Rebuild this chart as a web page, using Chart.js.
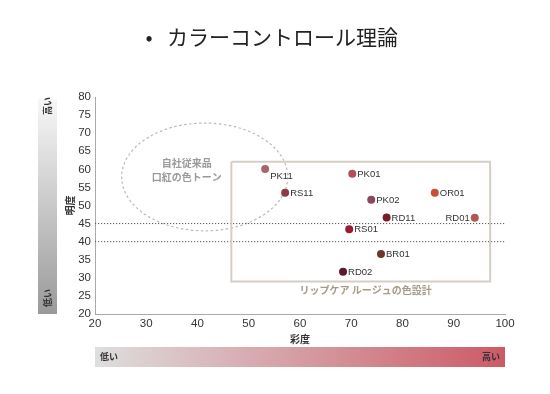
<!DOCTYPE html>
<html lang="ja">
<head>
<meta charset="utf-8">
<script src="https://cdn.jsdelivr.net/npm/chart.js@4/dist/chart.umd.min.js"></script>
<style>
  html, body { margin: 0; padding: 0; background: #fff; }
</style>
</head>
<body>
<canvas id="c" width="550" height="394"></canvas>
<script>
// ===== データ =====
const chartTitle = 'カラーコントロール理論';
const codes      = ['PK11', 'PK01', 'RS11', 'PK02', 'OR01', 'RD11', 'RD01', 'RS01', 'BR01', 'RD02'];
const saturation = [53.2, 70.2, 57.1, 73.9, 86.3, 76.9, 94.1, 69.6, 75.8, 68.4];
const lightness  = [60.1, 58.8, 53.5, 51.6, 53.5, 46.7, 46.6, 43.4, 36.6, 31.7];
const dotColors  = ['#a8666a', '#b44d57', '#8f3a48', '#8e4662', '#cc4e3a', '#7a1a2a', '#b05a52', '#9b1c30', '#6b3530', '#5c1a30'];
const xTickValues = [20, 30, 40, 50, 60, 70, 80, 90, 100];
const yTickValues = [20, 25, 30, 35, 40, 45, 50, 55, 60, 65, 70, 75, 80];
const refLevels  = [45, 40];
// 枠・楕円（データ単位）
const boxX = [46.6, 97.1];
const boxY = [29, 62.1];
const ovalCenter = [41.4, 57.9];
const ovalRadius = [16.2, 14.9];
const ovalText = ['自社従来品', '口紅の色トーン'];
const ovalTextAt = [[37.9, 61.7], [37.9, 57.8]];
const boxText = 'リップケア ルージュの色設計';
const boxTextAt = [72.8, 26.7];

// ラベル位置（既定は右）
const labelSide = { PK11: 'below', RD01: 'left' };

const latin = '"Liberation Sans", Arial, sans-serif';
const narrow = '"Liberation Sans Narrow", "Liberation Sans", Arial, sans-serif';
const jp = '"Noto Sans CJK JP", sans-serif';

const boxPts = [
  { x: boxX[0], y: boxY[1] }, { x: boxX[1], y: boxY[1] },
  { x: boxX[1], y: boxY[0] }, { x: boxX[0], y: boxY[0] },
  { x: boxX[0], y: boxY[1] },
];
const refSets = refLevels.map(v => ({
  data: [{ x: xTickValues[0], y: v }, { x: xTickValues[xTickValues.length - 1], y: v }],
  showLine: true,
  borderColor: '#555',
  borderWidth: 1,
  borderDash: [1.2, 1.8],
  pointRadius: 0,
}));

const decor = {
  id: 'decor',
  beforeDatasetsDraw(chart) {
    const { ctx, scales: { x, y } } = chart;
    // 楕円
    const cx = x.getPixelForValue(ovalCenter[0]);
    const cy = y.getPixelForValue(ovalCenter[1]);
    const rx = x.getPixelForValue(ovalCenter[0] + ovalRadius[0]) - cx;
    const ry = cy - y.getPixelForValue(ovalCenter[1] + ovalRadius[1]);
    ctx.save();
    ctx.strokeStyle = '#b9b9b9';
    ctx.lineWidth = 1.2;
    ctx.setLineDash([2.5, 2.5]);
    ctx.beginPath();
    ctx.ellipse(cx, cy, rx, ry, 0, 0, Math.PI * 2);
    ctx.stroke();
    ctx.restore();
  },
  afterDatasetsDraw(chart) {
    const { ctx, scales: { x, y } } = chart;
    ctx.save();
    // 楕円内テキスト
    ctx.font = 'bold 10px ' + jp;
    ctx.fillStyle = '#9a9a9a';
    ctx.textAlign = 'center';
    ctx.textBaseline = 'middle';
    ovalText.forEach((t, i) => {
      ctx.fillText(t, x.getPixelForValue(ovalTextAt[i][0]), y.getPixelForValue(ovalTextAt[i][1]));
    });
    // 枠のラベル
    ctx.fillStyle = '#a99a86';
    ctx.fillText(boxText, x.getPixelForValue(boxTextAt[0]), y.getPixelForValue(boxTextAt[1]));
    // 点ラベル
    ctx.font = '9.5px ' + latin;
    ctx.fillStyle = '#333';
    const meta = chart.getDatasetMeta(0);
    meta.data.forEach((pt, i) => {
      const side = labelSide[codes[i]];
      if (side === 'left') {
        ctx.textAlign = 'right';
        ctx.fillText(codes[i], pt.x - 5, pt.y + 0.5);
      } else if (side === 'below') {
        ctx.textAlign = 'left';
        ctx.fillText(codes[i], pt.x + 5, pt.y + 7);
      } else {
        ctx.textAlign = 'left';
        ctx.fillText(codes[i], pt.x + 5, pt.y + 0.5);
      }
    });
    ctx.restore();
  },
  afterDraw(chart) {
    const { ctx, chartArea: a } = chart;
    ctx.save();
    // タイトル
    ctx.fillStyle = '#222';
    ctx.textBaseline = 'middle';
    ctx.font = '21px ' + jp;
    ctx.textAlign = 'center';
    ctx.fillText('•', 149, 37);
    ctx.textAlign = 'left';
    ctx.fillText(chartTitle, 167, 37);

    // 明度グラデーション（左）
    let g = ctx.createLinearGradient(0, 99, 0, a.bottom);
    g.addColorStop(0, '#f7f7f7');
    g.addColorStop(1, '#9a9a9a');
    ctx.fillStyle = g;
    ctx.fillRect(38, 99, 19, a.bottom - 99);
    ctx.fillStyle = '#333';
    ctx.font = 'bold 9px ' + jp;
    ctx.textAlign = 'center';
    [['高い', 106], ['低い', 298]].forEach(([t, cy]) => {
      ctx.save();
      ctx.translate(48, cy);
      ctx.rotate(-Math.PI / 2);
      ctx.fillText(t, 0, 0);
      ctx.restore();
    });

    // 彩度グラデーション（下）
    g = ctx.createLinearGradient(a.left, 0, a.right, 0);
    g.addColorStop(0, '#dedede');
    g.addColorStop(1, '#cc5a66');
    ctx.fillStyle = g;
    ctx.fillRect(a.left, 347, a.right - a.left, 20);
    ctx.fillStyle = '#333';
    ctx.textAlign = 'left';
    ctx.fillText('低い', a.left + 5, 357);
    ctx.textAlign = 'right';
    ctx.fillText('高い', a.right - 5, 357);
    ctx.restore();
  },
};

new Chart(document.getElementById('c'), {
  type: 'scatter',
  data: {
    datasets: [
      {
        data: codes.map((c, i) => ({ x: saturation[i], y: lightness[i] })),
        backgroundColor: dotColors,
        borderWidth: 0,
        pointRadius: 4,
      },
      {
        data: boxPts,
        showLine: true,
        borderColor: '#d6cec6',
        borderWidth: 2,
        pointRadius: 0,
      },
      ...refSets,
    ],
  },
  options: {
    responsive: false,
    animation: false,
    layout: { padding: { left: 64, right: 45, top: 97, bottom: 49 } },
    plugins: { legend: { display: false }, tooltip: { enabled: false } },
    scales: {
      x: {
        type: 'linear',
        min: xTickValues[0],
        max: xTickValues[xTickValues.length - 1],
        afterBuildTicks: s => { s.ticks = xTickValues.map(v => ({ value: v })); },
        afterFit: s => { s.height = 31; },
        grid: { display: true, drawOnChartArea: false, drawTicks: false },
        border: { display: true, color: '#aaa', width: 1 },
        ticks: { padding: 3, color: '#333', font: { family: narrow, size: 11.5 } },
        title: { display: true, text: '彩度', padding: 0, color: '#333', font: { family: jp, size: 10, weight: 'bold' } },
      },
      y: {
        type: 'linear',
        min: yTickValues[0],
        max: yTickValues[yTickValues.length - 1],
        afterBuildTicks: s => { s.ticks = yTickValues.map(v => ({ value: v })); },
        afterFit: s => { s.width = 31; },
        grid: { display: true, drawOnChartArea: false, drawTicks: false },
        border: { display: true, color: '#aaa', width: 1 },
        ticks: { padding: 4, color: '#333', font: { family: narrow, size: 11.5 } },
        title: { display: true, text: '明度', padding: 0, color: '#333', font: { family: jp, size: 10, weight: 'bold' } },
      },
    },
  },
  plugins: [decor],
});
</script>
</body>
</html>
